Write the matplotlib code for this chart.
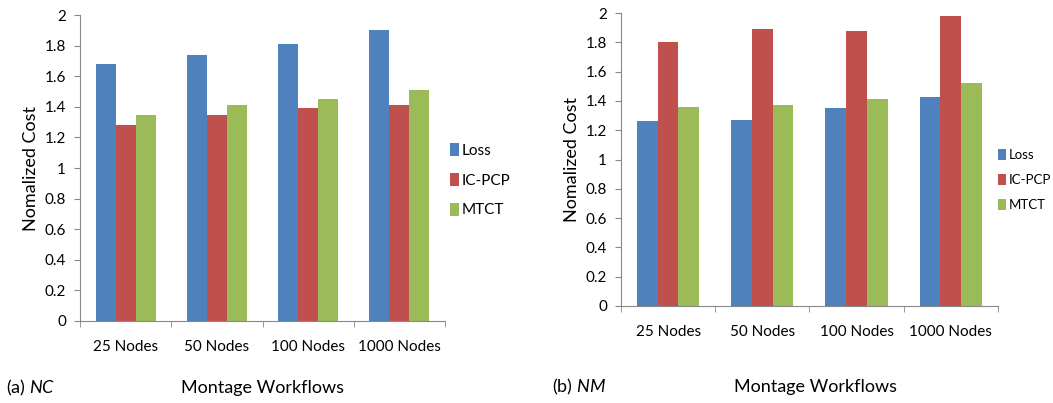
import matplotlib.pyplot as plt
import numpy as np

plt.rcParams['font.family'] = ['Lato', 'DejaVu Sans']
plt.rcParams['mathtext.fontset'] = 'custom'
plt.rcParams['mathtext.rm'] = 'Lato'
plt.rcParams['mathtext.it'] = 'Lato:italic'

categories = ['25 Nodes', '50 Nodes', '100 Nodes', '1000 Nodes']
series = ['Loss', 'IC-PCP', 'MTCT']
colors = ['#4F81BD', '#C0504D', '#9BBB59']

# (a) NC
nc_loss = [1.68, 1.74, 1.81, 1.90]
nc_icpcp = [1.28, 1.35, 1.39, 1.41]
nc_mtct = [1.35, 1.41, 1.45, 1.51]

# (b) NM
nm_loss = [1.26, 1.27, 1.35, 1.43]
nm_icpcp = [1.80, 1.89, 1.88, 1.98]
nm_mtct = [1.36, 1.37, 1.41, 1.52]

yticks = [0, 0.2, 0.4, 0.6, 0.8, 1, 1.2, 1.4, 1.6, 1.8, 2]
ytick_labels = ['0', '0.2', '0.4', '0.6', '0.8', '1', '1.2', '1.4', '1.6', '1.8', '2']

fig = plt.figure(figsize=(10.53, 4.03), dpi=100)
ax1 = fig.add_axes([0.076, 0.2035, 0.3466, 0.759])
ax2 = fig.add_axes([0.5897, 0.2407, 0.358, 0.727])


def draw(ax, data, legend_x, legend_y, legend_size):
    x = np.arange(len(categories))
    w = 0.22
    for i, (vals, c, name) in enumerate(zip(data, colors, series)):
        ax.bar(x + (i - 1) * w, vals, w, color=c, label=name)
    ax.set_xlim(-0.5, len(categories) - 0.5)
    ax.set_ylim(0, 2)
    ax.set_yticks(yticks)
    ax.set_yticklabels(ytick_labels, fontsize=11)
    ax.set_xticks(x)
    ax.set_xticklabels(categories, fontsize=11)
    ax.tick_params(axis='x', which='major', length=0, pad=14)
    ax.set_xticks(np.arange(-0.5, len(categories)), minor=True)
    ax.tick_params(axis='x', which='minor', length=4, color='#888888')
    ax.tick_params(axis='y', length=4, color='#888888', pad=6)
    for s in ['top', 'right']:
        ax.spines[s].set_visible(False)
    for s in ['left', 'bottom']:
        ax.spines[s].set_color('#888888')
    ax.set_ylabel('Nomalized Cost', fontsize=13)
    ax.legend(loc='center left', bbox_to_anchor=(legend_x, legend_y), frameon=False,
              fontsize=legend_size, handlelength=0.6, handleheight=0.9,
              handletextpad=0.2, labelspacing=1.0, borderaxespad=0.1,
              borderpad=0.2)


draw(ax1, [nc_loss, nc_icpcp, nc_mtct], 1.0, 0.46, 11)
draw(ax2, [nm_loss, nm_icpcp, nm_mtct], 0.99, 0.43, 9.5)

fig.text(0.006, 0.037, r'(a) $\it{NC}$', fontsize=13, va='center')
fig.text(0.249, 0.037, 'Montage Workflows', fontsize=13, va='center', ha='center')
fig.text(0.524, 0.040, r'(b) $\it{NM}$', fontsize=13, va='center')
fig.text(0.774, 0.040, 'Montage Workflows', fontsize=13, va='center', ha='center')

fig.savefig('out.png', dpi=100)
